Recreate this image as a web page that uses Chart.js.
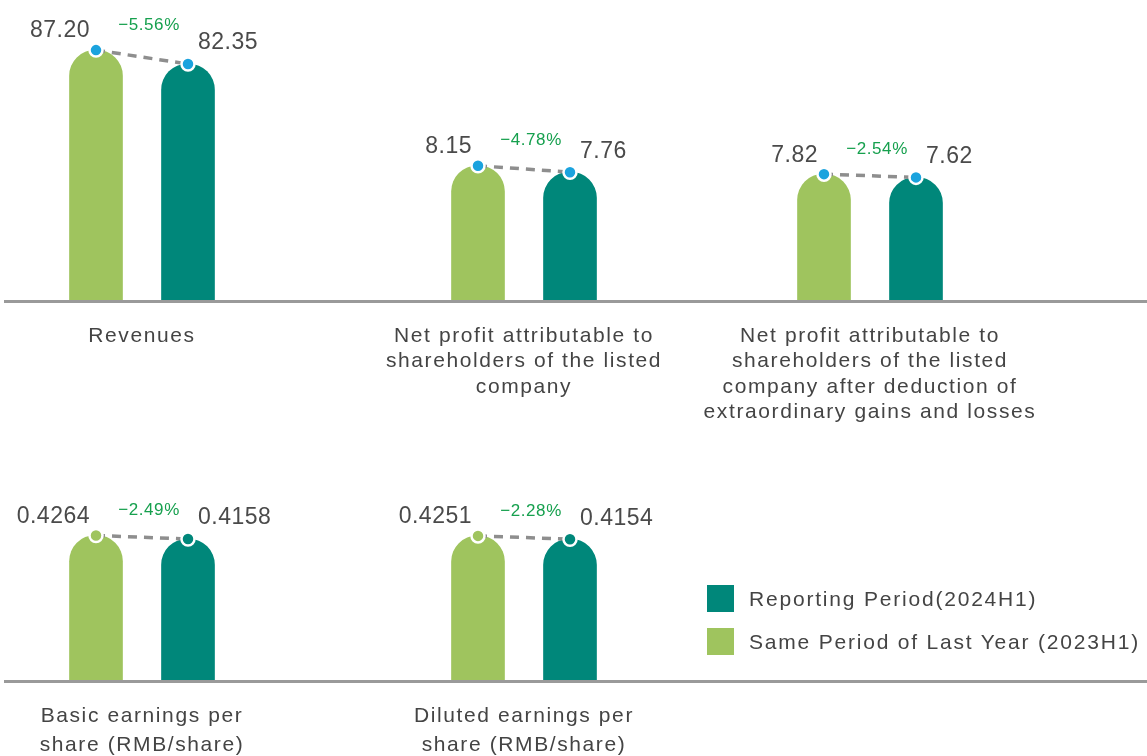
<!DOCTYPE html>
<html lang="en">
<head>
  <meta charset="UTF-8">
  <title>2024H1 key figures</title>
  <style>
    body { margin: 0; background: #fff; font-family: 'Liberation Sans', Arial, sans-serif; }
    #wrap { position: relative; width: 1147px; height: 756px; overflow: hidden; }
    #wrap canvas { position: absolute; }
    .legend { position: absolute; left: 707px; top: 585px; z-index: 2; }
    .legend div { display: flex; align-items: center; height: 27px; margin-bottom: 16px; font-size: 21px; color: #444; letter-spacing: 1.8px; white-space: nowrap; }
    .legend span { display: inline-block; width: 27px; height: 27px; margin-right: 15px; }
  </style>
  <script src="https://cdn.jsdelivr.net/npm/chart.js"></script>
</head>
<body>
<div id="wrap">
  <div class="legend">
    <div><span style="background:#00877a"></span>Reporting Period(2024H1)</div>
    <div><span style="background:#9fc45e"></span>Same Period of Last Year (2023H1)</div>
  </div>
</div>

<script>
// データ
const groupLabels = [
  ['Revenues'],
  ['Net profit attributable to', 'shareholders of the listed', 'company'],
  ['Net profit attributable to', 'shareholders of the listed', 'company after deduction of', 'extraordinary gains and losses'],
  ['Basic earnings per', 'share (RMB/share)'],
  ['Diluted earnings per', 'share (RMB/share)']
];
const seriesNames = ['Same Period of Last Year (2023H1)', 'Reporting Period(2024H1)'];
const prevValues = [87.20, 8.15, 7.82, 0.4264, 0.4251];
const currValues = [82.35, 7.76, 7.62, 0.4158, 0.4154];
const changes = [-5.56, -4.78, -2.54, -2.49, -2.28];
const decimals = [2, 2, 2, 4, 4];

// レイアウト
const GREEN = '#9fc45e', TEAL = '#00877a', BLUE = '#1ba3de';
const FONT = "'Liberation Sans', Arial, sans-serif";
const rows = [
  { top: 0, height: 440, plotTop: 20, baseline: 300, lineH: 25.5 },
  { top: 440, height: 316, plotTop: 40, baseline: 240, lineH: 29 }
];
const panels = [
  { row: 0, left: 0, right: 330, center: 142, yMax: 97.7 },
  { row: 0, left: 330, right: 700, center: 524, yMax: 17.0 },
  { row: 0, left: 700, right: 1147, center: 870, yMax: 17.4 },
  { row: 1, left: 0, right: 330, center: 142, yMax: 0.59 },
  { row: 1, left: 330, right: 1147, center: 524, yMax: 0.59 }
];

const fmtChange = v => (v < 0 ? '\u2212' : '+') + Math.abs(v).toFixed(2) + '%';

const labelPlugin = {
  id: 'labelPlugin',
  afterDatasetsDraw(chart) {
    const i = chart.options.plugins.labelPlugin.idx;
    const row = rows[panels[i].row];
    const ctx = chart.ctx;
    const area = chart.chartArea;
    ctx.save();
    // 基準線
    ctx.strokeStyle = '#9a9a9a';
    ctx.lineWidth = 3;
    ctx.beginPath();
    ctx.moveTo(panels[i].left === 0 ? 4 : 0, area.bottom + 1.5);
    ctx.lineTo(chart.width, area.bottom + 1.5);
    ctx.stroke();

    const pts = chart.getDatasetMeta(1).data;
    const p0 = pts[0], p1 = pts[1];
    ctx.textBaseline = 'middle';
    // 数値
    ctx.fillStyle = '#4a4a4a';
    ctx.font = '23px ' + FONT;
    ctx.letterSpacing = '0.5px';
    ctx.textAlign = 'right';
    ctx.fillText(prevValues[i].toFixed(decimals[i]), p0.x - 6, p0.y - 19);
    ctx.textAlign = 'left';
    ctx.fillText(currValues[i].toFixed(decimals[i]), p1.x + 10, p1.y - 21);
    // 増減率
    ctx.fillStyle = '#16a04e';
    ctx.font = '17px ' + FONT;
    ctx.letterSpacing = '0.6px';
    ctx.textAlign = 'center';
    ctx.fillText(fmtChange(changes[i]), (p0.x + p1.x) / 2 + 7, p0.y - 25);
    // 項目名
    ctx.fillStyle = '#444';
    ctx.font = '21px ' + FONT;
    ctx.letterSpacing = '1.6px';
    const cx = (area.left + area.right) / 2;
    groupLabels[i].forEach((line, k) => {
      ctx.fillText(line, cx, area.bottom + 36 + k * row.lineH);
    });
    ctx.restore();
  }
};

panels.forEach((p, i) => {
  const row = rows[p.row];
  const cv = document.createElement('canvas');
  const w = p.right - p.left;
  cv.width = w;
  cv.height = row.height;
  cv.style.left = p.left + 'px';
  cv.style.top = row.top + 'px';
  document.getElementById('wrap').appendChild(cv);

  const dotColor = p.row === 0 ? [BLUE, BLUE] : [GREEN, TEAL];
  new Chart(cv.getContext('2d'), {
    type: 'bar',
    data: {
      labels: seriesNames,
      datasets: [
        {
          type: 'bar',
          data: [prevValues[i], currValues[i]],
          backgroundColor: [GREEN, TEAL],
          barThickness: 53,
          borderRadius: 26,
          borderSkipped: 'start',
          order: 2
        },
        {
          type: 'line',
          data: [prevValues[i], currValues[i]],
          borderColor: '#8e8e8e',
          borderWidth: 3.5,
          borderDash: [9, 7],
          pointRadius: 6.5,
          pointBackgroundColor: dotColor,
          pointBorderColor: '#fff',
          pointBorderWidth: 2.5,
          clip: false,
          order: 1
        }
      ]
    },
    options: {
      responsive: false,
      animation: false,
      layout: {
        padding: {
          left: p.center - 92 - p.left,
          right: p.right - (p.center + 92),
          top: row.plotTop,
          bottom: row.height - row.baseline
        }
      },
      scales: {
        x: { display: false, offset: true },
        y: { display: false, min: 0, max: p.yMax }
      },
      plugins: {
        legend: { display: false },
        tooltip: { enabled: false },
        labelPlugin: { idx: i }
      }
    },
    plugins: [labelPlugin]
  });
});
</script>
</body>
</html>
